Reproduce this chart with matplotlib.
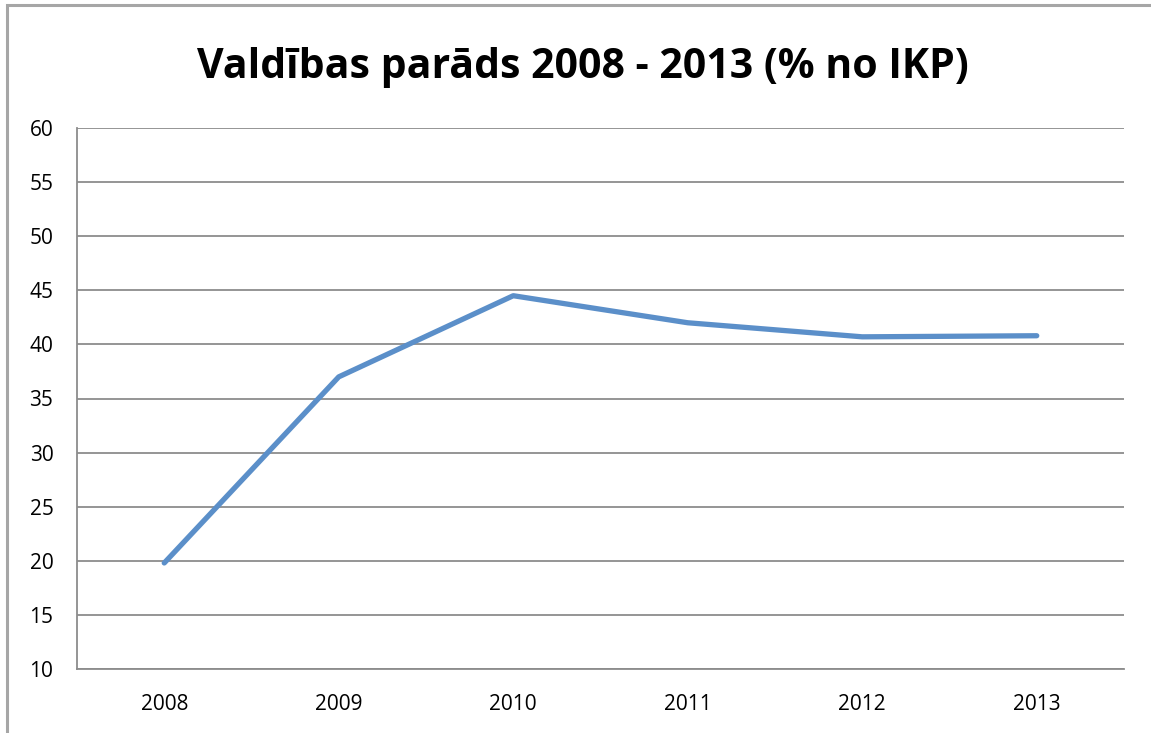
import matplotlib.pyplot as plt
from matplotlib.patches import Rectangle

# dati
gadi = ['2008', '2009', '2010', '2011', '2012', '2013']
parads = [19.8, 37.0, 44.5, 42.0, 40.7, 40.8]
y_ticks = [10, 15, 20, 25, 30, 35, 40, 45, 50, 55, 60]

plt.rcParams['font.family'] = ['Open Sans', 'DejaVu Sans']

fig = plt.figure(figsize=(11.51, 7.33), dpi=100)
W, H = 1151, 733

# ārējais rāmis
fig.patches.append(Rectangle((7.5 / W, -0.05), 1.2, 1 - 4.5 / H + 0.05,
                             transform=fig.transFigure, fill=False,
                             edgecolor='#a6a6a6', linewidth=2.2))

ax = fig.add_axes([77 / W, 1 - 669 / H, (1124 - 77) / W, (669 - 128) / H])
x = range(len(gadi))
ax.plot(x, parads, color='#5b8fc9', linewidth=3.8, solid_capstyle='round')

ax.set_xlim(-0.5, len(gadi) - 0.5)
ax.set_ylim(10, 60)
ax.set_xticks(list(x))
ax.set_xticklabels(gadi)
ax.set_yticks(y_ticks)
ax.tick_params(length=0, labelsize=15, pad=17)
ax.tick_params(axis='x', pad=18)
ax.grid(axis='y', color='#8c8c8c', linewidth=1.3)
ax.set_axisbelow(True)
for s in ['top', 'right']:
    ax.spines[s].set_visible(False)
for s in ['left', 'bottom']:
    ax.spines[s].set_color('#8c8c8c')
    ax.spines[s].set_linewidth(1.3)

fig.text(583 / W, 1 - 68 / H, 'Valdības parāds 2008 - 2013 (% no IKP)',
         ha='center', va='center', fontsize=29.5, fontweight='bold')

fig.savefig('out.png', dpi=100)
